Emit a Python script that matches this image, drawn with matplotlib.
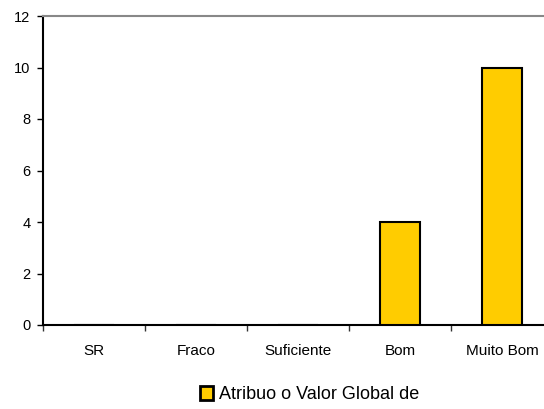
import numpy as np
import matplotlib
matplotlib.use("Agg")
import matplotlib.pyplot as plt
from matplotlib.patches import Patch

plt.rcParams["font.family"] = ["Liberation Sans", "DejaVu Sans"]

categories = ["SR", "Fraco", "Suficiente", "Bom", "Muito Bom"]
values = [0, 0, 0, 4, 10]
series_name = "Atribuo o Valor Global de"
y_ticks = [0, 2, 4, 6, 8, 10, 12]

fig = plt.figure(figsize=(5.44, 4.09), dpi=100)
ax = fig.add_axes([43 / 544, 84 / 409, 510 / 544, 309 / 409])

x = np.arange(len(categories))
ax.bar(x, values, width=0.4, color="#FFCC00", edgecolor="black", linewidth=1.5, zorder=3)

ax.set_xlim(-0.5, len(categories) - 0.5)
ax.set_ylim(0, 12)
ax.set_yticks(y_ticks)
ax.set_yticklabels([str(v) for v in y_ticks], fontsize=10.5)

# category labels centered, tick marks on boundaries
ax.set_xticks(np.arange(len(categories) + 1) - 0.5)
ax.set_xticklabels([])
ax.set_xticks(x, minor=True)
ax.set_xticklabels(categories, minor=True, fontsize=11)
ax.tick_params(axis="x", which="minor", length=0, pad=14)
ax.tick_params(axis="x", which="major", length=4, width=1, color="#333333")
ax.tick_params(axis="y", length=4, width=1, pad=5)

ax.spines["right"].set_visible(False)
ax.spines["top"].set_color("#888888")
ax.spines["top"].set_linewidth(1.5)
ax.spines["left"].set_linewidth(1.5)
ax.spines["bottom"].set_linewidth(1.5)

handle = Patch(facecolor="#FFCC00", edgecolor="black", linewidth=2)
fig.legend([handle], [series_name], loc="center", bbox_to_anchor=(0.569, 0.035),
           frameon=False, fontsize=13, handlelength=0.75, handleheight=0.75,
           handletextpad=0.3, borderaxespad=0)

fig.savefig("out.png", dpi=100)
